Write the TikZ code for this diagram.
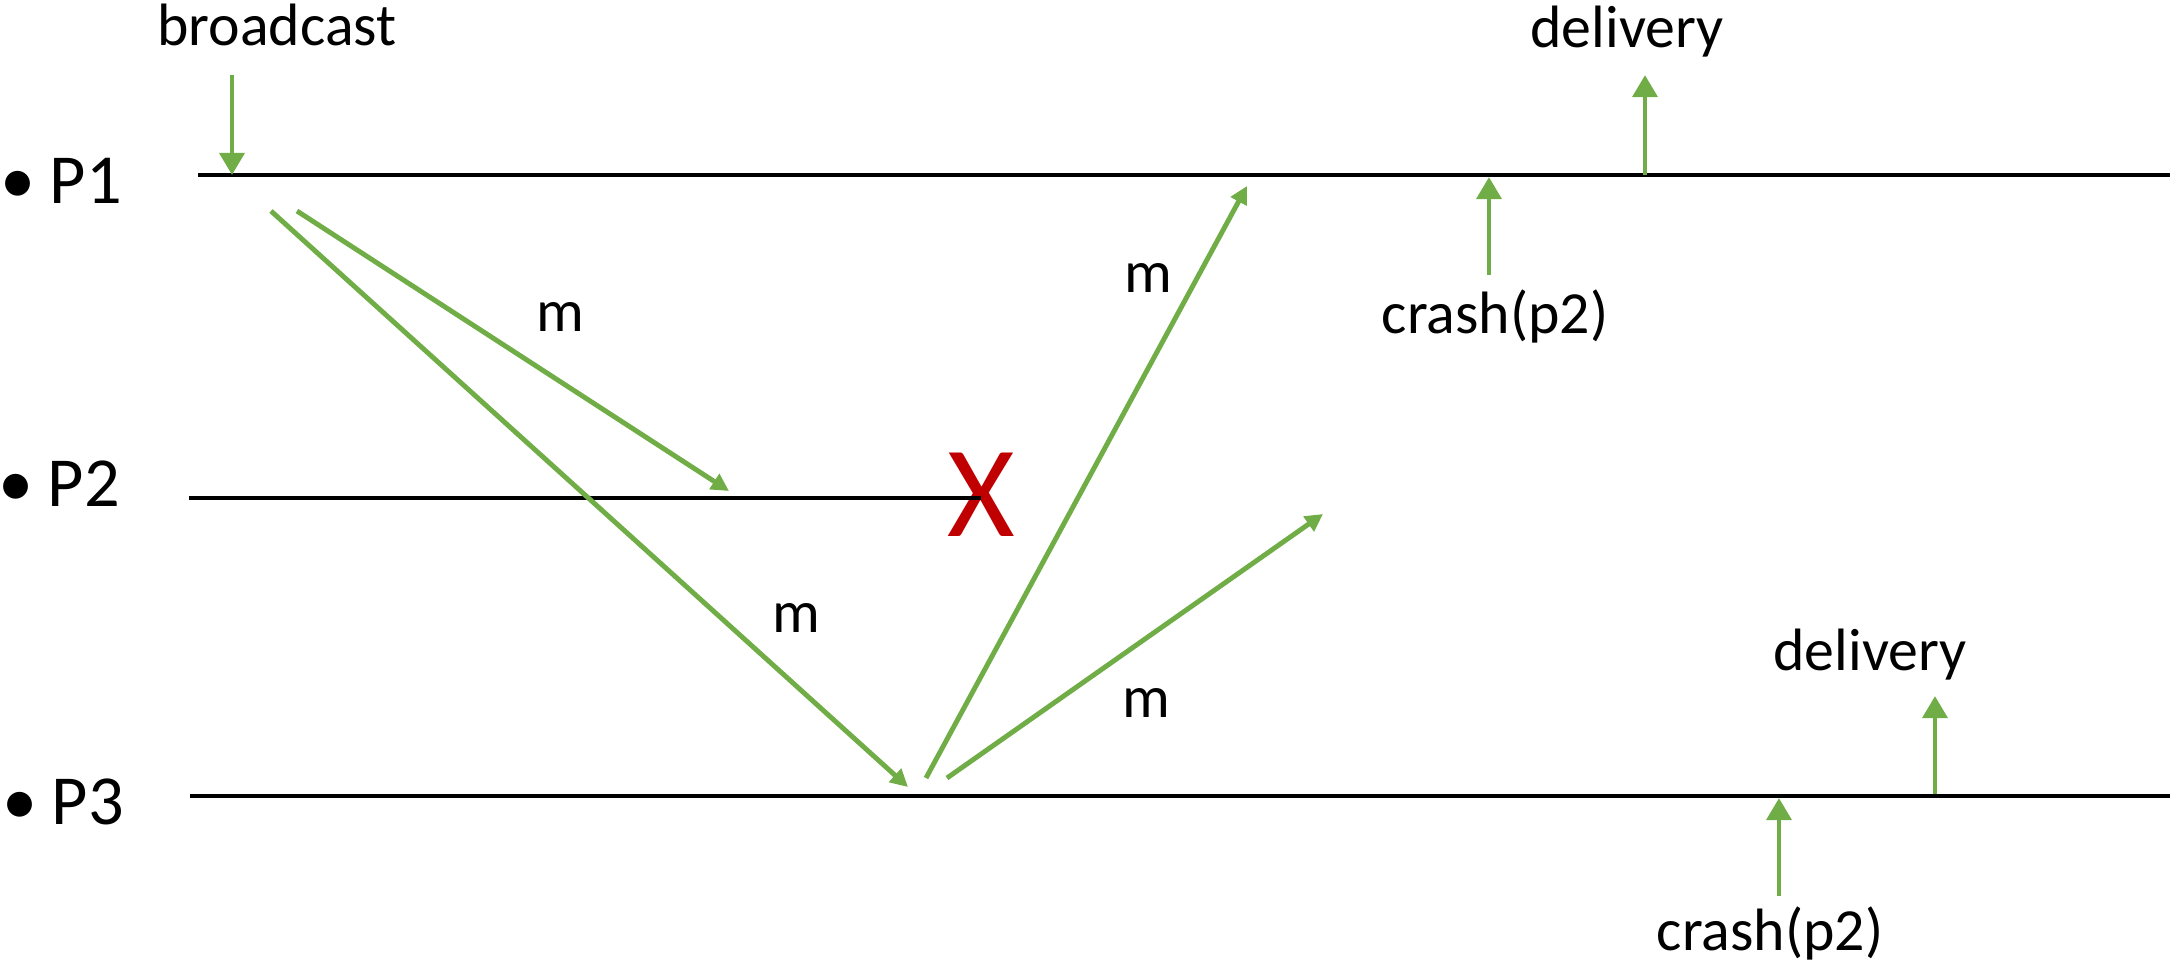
\documentclass[tikz,border=0pt]{standalone}
\usepackage{fontspec}
\setmainfont{Carlito}
\usetikzlibrary{arrows.meta}
\definecolor{msggreen}{HTML}{70AD47}
\definecolor{crashred}{HTML}{C00000}

\begin{document}
\begin{tikzpicture}[x=0.01cm,y=-0.01cm,
  proc/.style={anchor=base west,inner sep=0pt,font=\fontsize{20}{23}\selectfont},
  lbl/.style={anchor=base,inner sep=0pt,font=\fontsize{17}{20}\selectfont},
  mlbl/.style={inner sep=0pt,font=\fontsize{17}{20}\selectfont},
  tl/.style={line width=1pt,black},
  evt/.style={line width=1.4pt,msggreen,-{Triangle[length=6.3pt,width=7pt]}},
  msg/.style={line width=1.4pt,msggreen,-{Triangle[length=5pt,width=5pt]}}]
  \useasboundingbox (0,0) rectangle (2177,966);
  % processes
  \node[proc] (p1) at (0,203) {\textbullet\hspace{4pt}P1};
  \node[proc] (p2) at (-2,506) {\textbullet\hspace{4pt}P2};
  \node[proc] (p3) at (2,824) {\textbullet\hspace{4pt}P3};
  \node[inner sep=0pt,text=crashred,font=\fontsize{37}{40}\selectfont] (x2) at (981,495) {X};
  \coordinate (l1a) at (198,175); \coordinate (l1b) at (2170,175);
  \coordinate (l2a) at (189,498);
  \coordinate (l3a) at (190,796); \coordinate (l3b) at (2170,796);
  \draw[tl] (l1a) -- (l1b);
  \draw[tl] (l2a) -- (x2.center |- l2a);
  \draw[tl] (l3a) -- (l3b);
  % events
  \node[lbl] (bc) at (277,45) {broadcast};
  \node[lbl] (dl1) at (1627,47) {delivery};
  \node[lbl] (cr1) at (1495,333) {crash(p2)};
  \node[lbl] (dl3) at (1870,670) {delivery};
  \node[lbl] (cr3) at (1770,950) {crash(p2)};
  \coordinate (bcs) at (232,75);  \coordinate (bce) at (232,175);
  \coordinate (d1s) at (1645,175); \coordinate (d1e) at (1645,75);
  \coordinate (c1s) at (1489,275); \coordinate (c1e) at (1489,177);
  \coordinate (d3s) at (1935,794); \coordinate (d3e) at (1935,696);
  \coordinate (c3s) at (1779,896); \coordinate (c3e) at (1779,798);
  \foreach \s/\e in {bcs/bce,d1s/d1e,c1s/c1e,d3s/d3e,c3s/c3e}
    \draw[evt] (\s) -- (\e);
  % messages
  \coordinate (m1s) at (297,211); \coordinate (m1e) at (729,491);
  \coordinate (m2s) at (271,211); \coordinate (m2e) at (908,787);
  \coordinate (m3s) at (926,778); \coordinate (m3e) at (1247,186);
  \coordinate (m4s) at (947,778); \coordinate (m4e) at (1323,514);
  \foreach \s/\e in {m1s/m1e,m2s/m2e,m3s/m3e,m4s/m4e}
    \draw[msg] (\s) -- (\e);
  \node[mlbl] (ma) at (560,317) {m};
  \node[mlbl] (mb) at (796,618) {m};
  \node[mlbl] (mc) at (1148,278) {m};
  \node[mlbl] (md) at (1146,703) {m};
\end{tikzpicture}
\end{document}
